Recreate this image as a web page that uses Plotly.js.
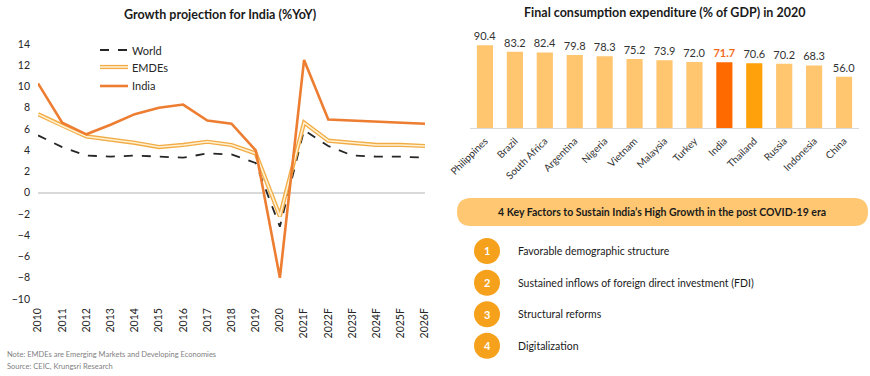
<!DOCTYPE html>
<html><head><meta charset="utf-8">
<script src="https://cdn.plot.ly/plotly-3.0.1.min.js"></script>
<style>html,body{margin:0;padding:0;background:#fff;}#chart{width:870px;height:376px;}</style>
</head><body><div id="chart"></div>
<script>
const years = ['2010','2011','2012','2013','2014','2015','2016','2017','2018','2019','2020','2021F','2022F','2023F','2024F','2025F','2026F'];
const world = [5.4,4.3,3.5,3.4,3.5,3.4,3.3,3.7,3.6,2.8,-3.2,5.9,4.4,3.5,3.4,3.4,3.3];
const emdes = [7.4,6.3,5.3,5.0,4.7,4.3,4.5,4.8,4.5,3.7,-2.2,6.6,4.9,4.7,4.5,4.5,4.4];
const india = [10.3,6.6,5.5,6.4,7.4,8.0,8.3,6.8,6.5,4.0,-8.0,12.5,6.9,6.8,6.7,6.6,6.5];

const countries = ['Philippines','Brazil','South Africa','Argentina','Nigeria','Vietnam','Malaysia','Turkey','India','Thailand','Russia','Indonesia','China'];
const consumption = [90.4,83.2,82.4,79.8,78.3,75.2,73.9,72.0,71.7,70.6,70.2,68.3,56.0];

const factorsTitle = '4 Key Factors to Sustain India’s High Growth in the post COVID-19 era';
const factors = ['Favorable demographic structure','Sustained inflows of foreign direct investment (FDI)','Structural reforms','Digitalization'];

const W = 870, H = 376;
const px = x => x / W;
const py = y => 1 - y / H;
const FONT = 'Lato, "Noto Sans", sans-serif';

const barColors = countries.map(c => c === 'India' ? '#FF6A00' : (c === 'Thailand' ? '#FFA10A' : '#FFC56F'));
const labelColors = countries.map(c => c === 'India' ? '#F26B1D' : '#333333');
const labelWeights = countries.map(c => c === 'India' ? 700 : 400);

const traces = [
  {x: years, y: world, type: 'scatter', mode: 'lines', name: 'World', line: {color: '#262626', width: 1.8, dash: 'dash'}, showlegend: false, xaxis: 'x', yaxis: 'y'},
  {x: years, y: emdes, type: 'scatter', mode: 'lines', name: 'EMDEs', line: {color: '#F2AC45', width: 4.2}, showlegend: false, xaxis: 'x', yaxis: 'y'},
  {x: years, y: emdes, type: 'scatter', mode: 'lines', name: 'EMDEs', line: {color: '#FFF1D2', width: 1.6}, showlegend: false, xaxis: 'x', yaxis: 'y'},
  {x: years, y: india, type: 'scatter', mode: 'lines', name: 'India', line: {color: '#ED7D31', width: 2.6}, showlegend: false, xaxis: 'x', yaxis: 'y'},
  {x: countries, y: consumption, type: 'bar', marker: {color: barColors}, text: consumption.map(v => v.toFixed(1)),
   textposition: 'outside', cliponaxis: false, constraintext: 'none',
   textfont: {family: FONT, size: 11, color: labelColors, weight: labelWeights},
   showlegend: false, xaxis: 'x2', yaxis: 'y2', hoverinfo: 'x+y'}
];

const shapes = [];
const annotations = [];

// Left chart legend (drawn manually to show the double line of EMDEs)
const legendItems = [
  {name: 'World', y: 50, styles: [{color: '#262626', width: 1.8, dash: 'dash'}]},
  {name: 'EMDEs', y: 67, styles: [{color: '#F2AC45', width: 4.2, dash: 'solid'}, {color: '#FFF1D2', width: 1.6, dash: 'solid'}]},
  {name: 'India', y: 86, styles: [{color: '#ED7D31', width: 2.6, dash: 'solid'}]}
];
legendItems.forEach(it => {
  it.styles.forEach(s => shapes.push({type: 'line', xref: 'paper', yref: 'paper', x0: px(100), x1: px(128), y0: py(it.y), y1: py(it.y), line: s}));
  annotations.push({xref: 'paper', yref: 'paper', x: px(130), y: py(it.y), xanchor: 'left', yanchor: 'middle', text: it.name, showarrow: false, font: {family: FONT, size: 11, color: '#262626'}});
});

// Titles
annotations.push({xref: 'paper', yref: 'paper', x: px(220), y: py(14), xanchor: 'center', yanchor: 'middle', text: '<b>Growth projection for India (%YoY)</b>', showarrow: false, font: {family: FONT, size: 12.5, color: '#1a1a1a'}});
annotations.push({xref: 'paper', yref: 'paper', x: px(664), y: py(13), xanchor: 'center', yanchor: 'middle', text: '<b>Final consumption expenditure (% of GDP) in 2020</b>', showarrow: false, font: {family: FONT, size: 12.5, color: '#1a1a1a'}});

// Notes
annotations.push({xref: 'paper', yref: 'paper', x: px(5), y: py(354), xanchor: 'left', yanchor: 'middle', text: 'Note: EMDEs are Emerging Markets and Developing Economies', showarrow: false, font: {family: FONT, size: 7.5, color: '#7f7f7f'}});
annotations.push({xref: 'paper', yref: 'paper', x: px(5), y: py(366), xanchor: 'left', yanchor: 'middle', text: 'Source: CEIC, Krungsri Research', showarrow: false, font: {family: FONT, size: 7.5, color: '#7f7f7f'}});

// Rounded header box
(function(){
  const x0 = 457, x1 = 868, y0 = 198, y1 = 226, r = 14;
  const X = v => px(v), Y = v => py(v);
  const path = `M ${X(x0+r)} ${Y(y0)} L ${X(x1-r)} ${Y(y0)} Q ${X(x1)} ${Y(y0)} ${X(x1)} ${Y(y0+r)} Q ${X(x1)} ${Y(y1)} ${X(x1-r)} ${Y(y1)} L ${X(x0+r)} ${Y(y1)} Q ${X(x0)} ${Y(y1)} ${X(x0)} ${Y(y1-r)} Q ${X(x0)} ${Y(y0)} ${X(x0+r)} ${Y(y0)} Z`;
  shapes.push({type: 'path', xref: 'paper', yref: 'paper', path: path, fillcolor: '#FFC772', line: {width: 0}});
  annotations.push({xref: 'paper', yref: 'paper', x: px(662), y: py(212), xanchor: 'center', yanchor: 'middle', text: '<b>' + factorsTitle + '</b>', showarrow: false, font: {family: FONT, size: 10.5, color: '#1a1a1a'}});
})();

// Numbered factors
const factorY = [251, 282.7, 314.3, 345.7];
factors.forEach((f, i) => {
  const cy = factorY[i], cx = 487, rr = 13;
  shapes.push({type: 'circle', xref: 'paper', yref: 'paper', x0: px(cx-rr), x1: px(cx+rr), y0: py(cy+rr), y1: py(cy-rr), fillcolor: '#F5A11B', line: {width: 0}});
  annotations.push({xref: 'paper', yref: 'paper', x: px(cx), y: py(cy), xanchor: 'center', yanchor: 'middle', text: '<b>' + (i+1) + '</b>', showarrow: false, font: {family: FONT, size: 11, color: '#ffffff'}});
  annotations.push({xref: 'paper', yref: 'paper', x: px(516), y: py(cy), xanchor: 'left', yanchor: 'middle', text: f, showarrow: false, font: {family: FONT, size: 10.5, color: '#1a1a1a'}});
});

const layout = {
  width: W, height: H,
  margin: {l: 0, r: 0, t: 0, b: 0},
  paper_bgcolor: '#ffffff', plot_bgcolor: 'rgba(0,0,0,0)',
  font: {family: FONT, color: '#333333'},
  showlegend: false,
  xaxis: {domain: [px(38), px(425)], type: 'category', showgrid: false, zeroline: false, showline: false, ticks: '', ticklabelstandoff: 6,
          tickangle: -90, tickfont: {family: FONT, size: 10.5, color: '#262626'}, automargin: false, fixedrange: true},
  yaxis: {domain: [py(299), py(44)], range: [-10, 14], dtick: 2, showgrid: false, zeroline: true, zerolinecolor: '#D9D9D9', zerolinewidth: 1.5,
          showline: false, ticks: '', ticklabelstandoff: 7, tickfont: {family: FONT, size: 10.5, color: '#262626'}, automargin: false, fixedrange: true},
  xaxis2: {domain: [px(470), px(859)], anchor: 'y2', type: 'category', showgrid: false, zeroline: false, showline: true, linecolor: '#D9D9D9', linewidth: 1,
           ticks: '', tickangle: -45, ticklabelstandoff: 2, tickfont: {family: FONT, size: 10, color: '#333333'}, automargin: false, fixedrange: true},
  yaxis2: {domain: [py(128.3), py(36.3)], anchor: 'x2', range: [0, 100], visible: false, fixedrange: true},
  bargap: 0.46,
  shapes: shapes,
  annotations: annotations
};

Plotly.newPlot('chart', traces, layout, {displayModeBar: false, staticPlot: true});
</script>
</body></html>
